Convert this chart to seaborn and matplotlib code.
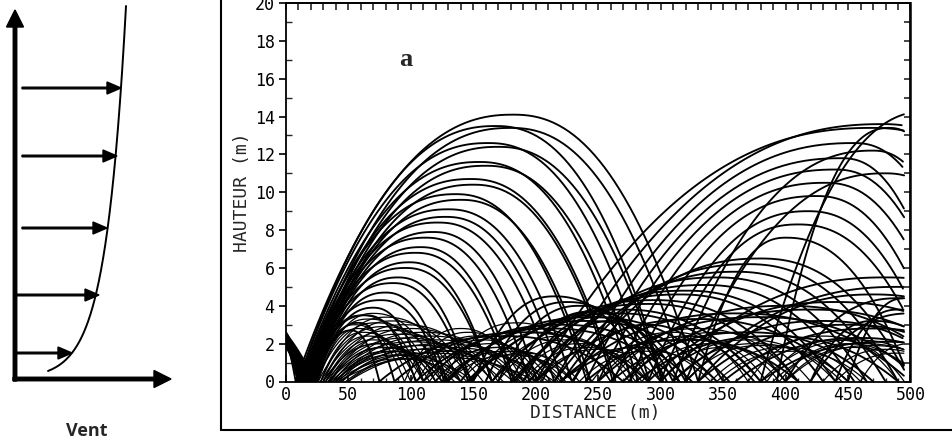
import numpy as np
import pandas as pd
import seaborn as sns
import matplotlib
matplotlib.use("Agg")
import matplotlib.pyplot as plt
from matplotlib.lines import Line2D
from matplotlib.ticker import MultipleLocator

# ---------------- data ----------------
# Each hop: launch x, apex x, apex height, landing x  (metres)
# Family A: first (large) hops, fed by a descent from x=0
A_start_h = [2.4, 2.2, 2.5, 2.0, 2.3, 2.1, 2.6, 1.9, 2.2, 2.4, 2.0, 2.3, 2.5, 2.1,
             2.2, 1.8, 2.4, 2.0, 2.3, 2.6, 2.1, 2.2, 2.4, 1.9, 2.3, 2.0, 2.5, 2.2]
A_launch = [8, 10, 14, 10, 16, 11, 17, 12, 18, 12, 18, 13, 19, 13,
            20, 14, 20, 14, 21, 15, 22, 15, 22, 16, 23, 17, 24, 25]
A_apex_x = [182, 168, 180, 162, 170, 155, 160, 148, 150, 136, 140, 130, 128, 122,
            118, 112, 108, 104, 99, 96, 90, 86, 80, 76, 70, 64, 58, 52]
A_apex_h = [14.1, 13.5, 13.4, 12.6, 12.4, 11.6, 11.4, 10.7, 10.4, 9.9, 9.6, 9.1, 8.7, 8.4,
            7.9, 7.6, 7.1, 6.8, 6.3, 6.0, 5.5, 5.2, 4.7, 4.3, 3.9, 3.5, 3.1, 2.7]
A_land = [330, 302, 321, 291, 301, 277, 282, 264, 262, 241, 244, 229, 221, 215,
          201, 195, 183, 181, 165, 165, 148, 146, 129, 127, 110, 104, 87, 75]

# Family B: large hops rising towards the right edge
B_launch = [200, 215, 230, 240, 250, 262, 275, 290, 300, 330, 380, 393, 310, 320]
B_apex_x = [470, 478, 455, 445, 440, 432, 425, 418, 410, 400, 515, 483, 470, 480]
B_apex_h = [13.4, 13.6, 12.6, 11.8, 11.2, 10.5, 9.8, 9.0, 8.3, 7.6, 14.3, 13.4, 12.2, 11.0]
B_land = [650, 640, 560, 540, 545, 540, 530, 525, 520, 500, 620, 560, 560, 590]

# Family A2: second hops of the medium first hops
A2_launch = [229, 221, 215, 201, 195, 183, 181, 165, 165, 148, 146, 129, 127, 110, 104, 87, 75]
A2_apex_x = [380, 370, 360, 345, 335, 320, 315, 295, 290, 270, 265, 245, 240, 220, 212, 190, 175]
A2_apex_h = [6.5, 6.2, 5.8, 5.5, 5.1, 4.8, 4.6, 4.3, 4.1, 3.8, 3.6, 3.4, 3.2, 3.0, 2.8, 2.6, 2.4]
A2_land = [500, 490, 480, 465, 455, 440, 430, 410, 400, 380, 375, 355, 345, 325, 315, 290, 270]

# Family D: medium hops on the right half
D_launch = [300, 320, 330, 290, 250, 270, 220, 240, 200, 310, 330, 350, 260, 280, 220, 360, 380, 400, 420,
            150, 160, 170, 180, 190, 205, 230, 420, 440, 450]
D_apex_x = [480, 490, 470, 440, 400, 420, 360, 380, 330, 430, 450, 470, 370, 390, 320, 460, 480, 490, 500,
            215, 225, 235, 245, 250, 260, 290, 470, 490, 495]
D_apex_h = [5.5, 5.0, 4.6, 4.2, 4.0, 3.8, 3.6, 3.4, 3.3, 3.2, 3.0, 2.8, 2.6, 2.4, 2.2, 2.3, 2.1, 4.4, 3.6,
            4.5, 4.2, 4.0, 3.7, 3.4, 3.2, 3.0, 3.2, 3.8, 4.4]
D_land = [640, 650, 600, 580, 540, 560, 500, 510, 450, 540, 560, 580, 470, 490, 410, 550, 570, 580, 580,
          290, 300, 305, 310, 315, 320, 350, 540, 560, 560]

# Family E: low hops forming the cross-hatching near the ground
E_launch = [20, 22, 24, 26, 28, 30, 32, 34, 36, 38, 40, 42,
            25, 28, 30, 32, 35, 38, 40, 42, 45, 48, 50, 30, 35, 40, 45, 50,
            24, 26, 28, 30, 32, 34, 36, 38, 40, 44,
            95, 100, 105, 110, 115, 120, 125, 130,
            125, 140, 150, 165, 170, 185, 190, 200, 120, 140, 145,
            245, 260, 275, 285, 300, 220, 235, 250, 270,
            300, 310, 320, 370, 385, 395, 400, 340, 345, 380, 390, 400, 460, 430, 440]
E_apex_x = [60, 66, 72, 78, 84, 90, 96, 102, 108, 112, 116, 120,
            70, 80, 85, 95, 100, 110, 115, 120, 125, 130, 135, 75, 80, 90, 95, 100,
            55, 58, 62, 66, 70, 74, 78, 82, 86, 92,
            140, 146, 152, 158, 164, 170, 175, 180,
            185, 200, 205, 220, 225, 235, 240, 250, 170, 185, 190,
            310, 320, 330, 340, 350, 280, 290, 330, 345,
            370, 375, 380, 430, 440, 450, 455, 400, 405, 455, 462, 468, 500, 480, 490]
E_apex_h = [3.5, 3.3, 3.1, 2.9, 2.7, 2.5, 2.3, 2.1, 1.9, 1.7, 1.5, 1.3,
            3.6, 3.4, 3.2, 3.0, 2.8, 2.6, 2.4, 2.2, 2.0, 1.8, 1.6, 2.0, 1.8, 1.6, 1.4, 1.2,
            3.0, 2.8, 2.6, 2.4, 2.2, 2.0, 1.8, 1.6, 1.4, 1.2,
            2.8, 2.6, 2.4, 2.2, 2.0, 1.8, 1.6, 1.4,
            3.1, 2.8, 2.6, 2.4, 2.2, 2.0, 1.8, 1.7, 1.8, 1.6, 1.5,
            2.6, 2.4, 2.2, 2.0, 1.8, 1.8, 1.6, 2.8, 2.6,
            2.2, 2.0, 1.9, 2.4, 2.2, 2.0, 1.8, 1.8, 1.6, 2.2, 2.0, 1.9, 2.0, 1.7, 1.5]
E_land = [110, 120, 130, 140, 150, 158, 166, 174, 182, 188, 194, 200,
          125, 140, 150, 165, 170, 185, 190, 200, 205, 210, 215, 120, 125, 140, 145, 150,
          95, 100, 105, 110, 115, 120, 125, 130, 135, 140,
          190, 196, 200, 206, 212, 218, 224, 230,
          245, 260, 260, 275, 280, 285, 290, 300, 220, 230, 235,
          370, 380, 385, 395, 400, 340, 345, 410, 420,
          440, 445, 450, 490, 495, 505, 510, 460, 465, 530, 535, 540, 540, 530, 540]

x_ticks = [0, 50, 100, 150, 200, 250, 300, 350, 400, 450, 500]
y_ticks = [0, 2, 4, 6, 8, 10, 12, 14, 16, 18, 20]

# wind-profile sketch (pixel units of the left panel)
arrow_y = [353, 295, 228, 156, 88]
arrow_tail = [17, 17, 22, 22, 22]
arrow_tip = [72, 99, 107, 117, 121]

# ---------------- build trajectories ----------------
X_END = 495
SHAPE = 2.3


def hop_points(x0, xa, h, x1, n=160):
    x = np.linspace(x0, x1, n)
    u = np.where(x < xa, (x - xa) / (xa - x0), (x - xa) / (x1 - xa))
    y = h * (1 - np.abs(u) ** SHAPE)
    keep = x <= X_END
    return x[keep], np.clip(y[keep], 0, None)


rows = []
hid = 0
for y0, xl in zip(A_start_h, A_launch):
    x = np.linspace(0, xl, 30)
    y = y0 * (1 - (x / xl) ** 1.2)
    rows.append(pd.DataFrame({"x": x, "y": y, "hop": hid, "fam": "big"}))
    hid += 1

fams = [
    ("big", A_launch, A_apex_x, A_apex_h, A_land),
    ("big", B_launch, B_apex_x, B_apex_h, B_land),
    ("big", A2_launch, A2_apex_x, A2_apex_h, A2_land),
    ("big", D_launch, D_apex_x, D_apex_h, D_land),
    ("small", E_launch, E_apex_x, E_apex_h, E_land),
]
for name, l0, la, hh, l1 in fams:
    for a, b, c, d in zip(l0, la, hh, l1):
        x, y = hop_points(a, b, c, d)
        rows.append(pd.DataFrame({"x": x, "y": y, "hop": hid, "fam": name}))
        hid += 1

df = pd.concat(rows, ignore_index=True)

# ---------------- figure ----------------
sns.set_style("ticks")
plt.rcParams["font.family"] = ["DejaVu Sans Mono", "DejaVu Sans"]
W, H = 953, 442
fig = plt.figure(figsize=(W / 100, H / 100), dpi=100)

# main plot axes (pixel placement)
L, R, T, B = 285.7, 910.5, 3.0, 381.5
ax = fig.add_axes([L / W, 1 - B / H, (R - L) / W, (B - T) / H])
sns.lineplot(data=df[df.fam == "big"], x="x", y="y", units="hop", estimator=None,
             sort=False, color="black", linewidth=1.35, ax=ax, legend=False)
sns.lineplot(data=df[df.fam == "small"], x="x", y="y", units="hop", estimator=None,
             sort=False, color="black", linewidth=0.9, ax=ax, legend=False)
ax.set_xlim(0, 500)
ax.set_ylim(0, 20)
ax.set_xlabel("")
ax.set_ylabel("")
ax.set_xticks(x_ticks)
ax.set_yticks(y_ticks)
ax.set_xticklabels([str(v) for v in x_ticks])
ax.set_yticklabels([str(v) for v in y_ticks])
ax.yaxis.set_minor_locator(MultipleLocator(1))
ax.xaxis.set_minor_locator(MultipleLocator(10))
ax.tick_params(axis="y", which="major", direction="out", length=5, width=1.2,
               labelsize=12, pad=3, colors="black")
ax.tick_params(axis="y", which="minor", direction="in", length=4, width=1.0)
ax.tick_params(axis="x", which="major", direction="in", length=5, width=1.2,
               labelsize=12, pad=3, colors="black")
ax.tick_params(axis="x", which="minor", direction="in", length=3, width=1.0)
for s in ax.spines.values():
    s.set_linewidth(1.3)
    s.set_color("black")

sec_r = ax.secondary_yaxis("right")
sec_r.set_yticks(np.arange(0, 21, 1))
sec_r.tick_params(direction="in", length=5, width=1.2, labelright=False)
sec_r.spines["right"].set_linewidth(1.3)
sec_t = ax.secondary_xaxis("top")
sec_t.set_xticks(np.arange(0, 501, 10))
sec_t.tick_params(direction="in", length=5, width=1.2, labeltop=False)
sec_t.spines["top"].set_linewidth(1.3)

ax.text(96, 17.0, "a", fontsize=19, fontweight="bold",
        family=["Liberation Serif", "DejaVu Serif"], ha="center", va="center")

fig.text(595 / W, 1 - 413 / H, "DISTANCE (m)", fontsize=13, ha="center", va="center")
fig.text(242 / W, 1 - 192 / H, "HAUTEUR (m)", fontsize=13, rotation=90,
         ha="center", va="center")

# panel frame
fig.add_artist(Line2D([221 / W, 221 / W], [1.0, 1 - 430 / H], transform=fig.transFigure,
                      color="black", linewidth=1.5))
fig.add_artist(Line2D([221 / W, 1.0], [1 - 430 / H, 1 - 430 / H], transform=fig.transFigure,
                      color="black", linewidth=1.5))

# left sketch of the wind profile
axl = fig.add_axes([0, 0, 200 / W, 1])
axl.set_xlim(0, 200)
axl.set_ylim(H, 0)
axl.axis("off")
axl.arrow(15, 381, 0, -371, width=3.5, head_width=17, head_length=17,
          length_includes_head=True, color="black")
axl.arrow(13, 379, 158, 0, width=3.5, head_width=17, head_length=17,
          length_includes_head=True, color="black")
for yy, x0, x1 in zip(arrow_y, arrow_tail, arrow_tip):
    axl.arrow(x0, yy, x1 - x0, 0, width=1.6, head_width=12, head_length=14,
              length_includes_head=True, color="black")
hz = np.linspace(8, 373, 200)
axl.plot(5.8 + 20.3 * np.log(hz), 379 - hz, color="black", linewidth=1.4)
axl.text(87, 431, "Vent", fontsize=13, fontweight="bold",
         family=["Open Sans", "DejaVu Sans"], ha="center", va="center")

fig.savefig("out.png", dpi=100)
